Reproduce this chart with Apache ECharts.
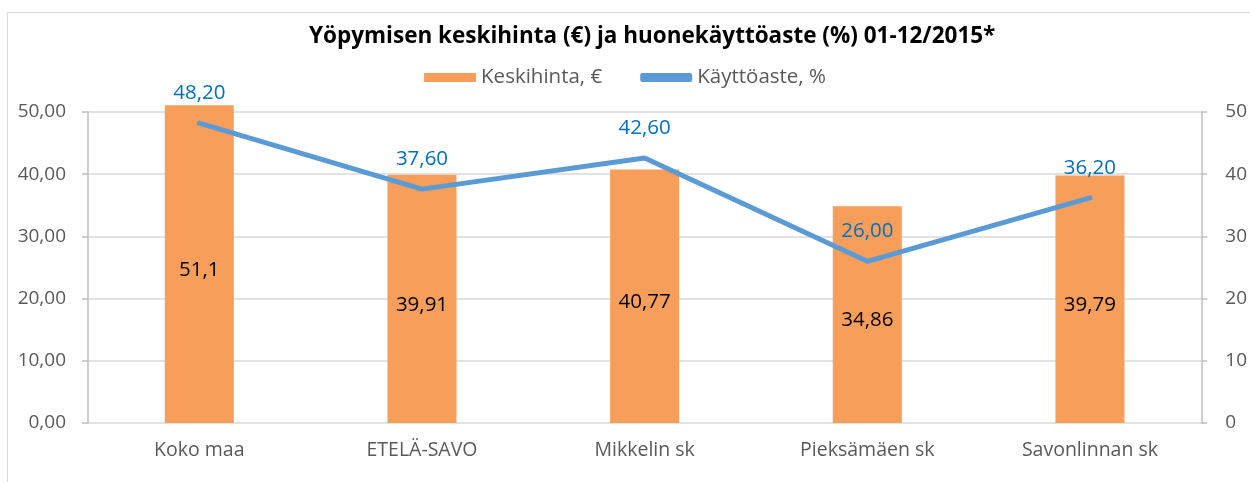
<!DOCTYPE html>
<html><head><meta charset="utf-8">
<script src="https://cdn.jsdelivr.net/npm/echarts@6/dist/echarts.min.js"></script>
<style>html,body{margin:0;padding:0;background:#fff}#c{width:1250px;height:482px}</style>
</head><body><div id="c"></div>
<script>
const titleText = 'Yöpymisen keskihinta (€) ja huonekäyttöaste (%) 01-12/2015*';
const categories = ['Koko maa', 'ETELÄ-SAVO', 'Mikkelin sk', 'Pieksämäen sk', 'Savonlinnan sk'];
const priceValues = [51.1, 39.91, 40.77, 34.86, 39.79];
const occupancyValues = [48.2, 37.6, 42.6, 26.0, 36.2];
const seriesNames = ['Keskihinta, €', 'Käyttöaste, %'];

const FONT = '"Open Sans", Lato, sans-serif';
const chart = echarts.init(document.getElementById('c'));
const fmt2 = v => v.toFixed(2).replace('.', ',');
chart.setOption({
  animation: false,
  textStyle: { fontFamily: FONT },
  graphic: [{ type: 'rect', shape: { x: 7.5, y: 12.5, width: 1260, height: 480 }, style: { fill: 'none', stroke: '#d9d9d9', lineWidth: 1 }, silent: true }],
  title: { text: titleText, left: 304, top: 20, textStyle: { fontFamily: FONT, fontSize: 22.5, fontWeight: 'bold', color: '#000' } },
  legend: {
    top: 62, left: 'center', itemGap: 38, itemWidth: 52, itemHeight: 9,
    textStyle: { fontFamily: FONT, fontSize: 20.5, color: '#595959' },
    data: [
      { name: seriesNames[0], icon: 'rect' },
      { name: seriesNames[1], icon: 'roundRect', itemStyle: { color: '#5B9BD5' } }
    ]
  },
  grid: { left: 88, right: 47, top: 112, bottom: 59 },
  xAxis: {
    type: 'category', data: categories,
    axisLine: { show: false },
    axisTick: { show: false },
    axisLabel: { fontFamily: FONT, fontSize: 19.5, color: '#595959', margin: 17 }
  },
  yAxis: [
    { type: 'value', min: 0, max: 50, interval: 10,
      axisLine: { show: true, lineStyle: { color: '#bfbfbf', width: 1.5 } },
      axisTick: { show: true, inside: false, length: 6, lineStyle: { color: '#bfbfbf', width: 1.5 } },
      splitLine: { lineStyle: { color: '#d9d9d9', width: 1.5 } },
      axisLabel: { fontFamily: FONT, fontSize: 19, color: '#595959', margin: 22, formatter: fmt2 } },
    { type: 'value', min: 0, max: 50, interval: 10, position: 'right',
      axisLine: { show: true, lineStyle: { color: '#bfbfbf', width: 1.5 } },
      axisTick: { show: true, inside: false, length: 6, lineStyle: { color: '#bfbfbf', width: 1.5 } },
      splitLine: { show: false },
      axisLabel: { fontFamily: FONT, fontSize: 19, color: '#595959', margin: 24 } }
  ],
  series: [
    { name: seriesNames[0], type: 'bar', yAxisIndex: 0, data: priceValues, barWidth: '31%', clip: false,
      itemStyle: { color: '#F79E5A' },
      label: { show: true, position: 'inside', offset: [0, 6], fontFamily: FONT, fontSize: 20.5, color: '#000',
        formatter: p => String(p.value).replace('.', ',') } },
    { name: seriesNames[1], type: 'line', yAxisIndex: 1, data: occupancyValues,
      symbol: 'circle', symbolSize: 1, showSymbol: true,
      lineStyle: { color: '#5B9BD5', width: 5, cap: 'round', join: 'round' },
      itemStyle: { color: '#5B9BD5' },
      label: { show: true, position: 'top', distance: 19, fontFamily: FONT, fontSize: 20.5, color: '#0070C0',
        formatter: p => fmt2(p.value) } }
  ]
});
</script>
</body></html>
